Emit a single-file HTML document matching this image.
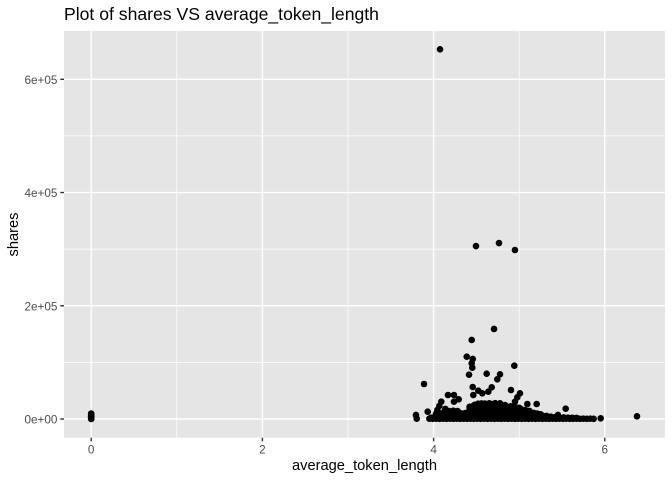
<!DOCTYPE html>
<html lang="en">
<head>
<meta charset="utf-8">
<title>Plot of shares VS average_token_length</title>
<style>
html,body{margin:0;padding:0;background:#fff;width:672px;height:480px;overflow:hidden}
svg{display:block}
text{font-family:"Liberation Sans",Arial,sans-serif}
</style>
</head>
<body>
<svg id="chart" xmlns="http://www.w3.org/2000/svg" width="672" height="480" viewBox="0 0 672 480">
  <rect x="0" y="0" width="672" height="480" fill="#fff"/>
  <rect x="64" y="31" width="601" height="406.7" fill="#E5E5E5"/>
  <g id="grid"></g>
  <g id="points"></g>
  <g id="axes"></g>
  <text x="64" y="20" font-size="17.6" fill="#000">Plot of shares VS average_token_length</text>
  <text x="364.5" y="470" font-size="14.67" fill="#000" text-anchor="middle">average_token_length</text>
  <text transform="translate(18,234.5) rotate(-90)" font-size="14.67" fill="#000" text-anchor="middle">shares</text>
</svg>
<script>
const xTicks = [0, 2, 4, 6];
const xTickLabels = ["0", "2", "4", "6"];
const xMinor = [1, 3, 5];
const yTicks = [0, 200000, 400000, 600000];
const yTickLabels = ["0e+00", "2e+05", "4e+05", "6e+05"];
const yMinor = [100000, 300000, 500000];

const zeroLengthPoints = [[0,0],[0,800],[0,1500],[0,2400],[0,3300],[0,4200],[0,5300],[0,6400],[0,7500],[0,8600],[0,9600]];

const outlierPoints = [
[4.075,652900],[4.495,305500],[4.764,310800],[4.95,298500],[4.706,159000],[4.445,139600],
[4.387,110000],[4.457,106000],[4.445,98400],[4.452,90600],[4.414,78200],[4.62,80000],
[4.943,94100],[4.776,78900],[4.744,70100],[3.888,61800],[4.457,56500],[4.679,56000],
[4.639,48200],[4.904,51200],[4.522,50000],[4.569,45400],[4.464,42400],[5.009,45400],
[4.978,38300],[4.951,30600],[5.095,26500],[5.204,26500],[5.543,18200],[4.168,42400],
[4.238,42400],[4.293,34800],[4.09,30600],[4.067,23000],[4.043,15900],[4.238,30600],
[4.137,17700],[3.931,12900],[3.794,7100],[3.803,500],[6.376,4800],[5.952,1200],
[5.453,7100],[4.776,27700],[4.834,24700]
];

const blobBase = [
[3.95,500],[3.99,300],[4.03,500],[4.07,300],[4.11,500],[4.15,300],[4.19,500],[4.23,300],[4.27,500],[4.31,300],
[4.35,500],[4.39,300],[4.43,500],[4.47,300],[4.51,500],[4.55,300],[4.59,500],[4.63,300],[4.67,500],[4.71,300],
[4.75,500],[4.79,300],[4.83,500],[4.87,300],[4.91,500],[4.95,300],[4.99,500],[5.03,300],[5.07,500],[5.11,300],
[5.15,500],[5.19,300],[5.23,500],[5.27,300],[5.31,500],[5.35,300],[5.39,500],[5.43,300],[5.47,500],[5.51,300],
[5.55,500],[5.59,400],[5.63,300],[5.67,500],[5.71,300],[5.75,500],[5.79,300],[5.83,500],[5.87,300]
];

const blobLower = [
[3.97,2400],[4.02,5200],[4.07,6000],[4.12,6400],[4.17,6000],[4.22,6400],[4.27,6000],[4.32,6400],[4.37,6000],[4.42,6400],[4.47,6000],
[4.52,6400],[4.57,6000],[4.62,6400],[4.67,6000],[4.72,6400],[4.77,6000],[4.82,6400],[4.87,6000],[4.92,6400],[4.97,6000],
[5.02,6400],[5.07,6000],[5.12,6400],[5.17,6000],[5.22,6400],[5.27,6000],[5.32,5400],[5.37,4200],[5.42,3200],[5.47,3000],
[5.52,2800],[5.57,2400],[5.62,2200],[5.67,2000]
];

const blobMiddle = [
[4.03,9500],[4.07,10200],[4.12,11000],[4.17,11800],[4.22,12000],[4.27,11000],[4.32,10000],[4.37,10400],[4.42,11600],[4.47,12000],
[4.52,12000],[4.57,11600],[4.62,12000],[4.67,11600],[4.72,12000],[4.77,11600],[4.82,12000],[4.87,11600],[4.92,12000],[4.97,11600],
[5.02,12000],[5.07,11600],[5.12,11600],[5.17,10800],[5.21,9600],[5.25,8300],
[4.13,14500],[4.18,14000],[4.23,14800],[4.28,14000],[4.42,17000],[4.47,17400],[4.52,17800],[4.57,17400],[4.62,17800],[4.67,17400],
[4.72,17800],[4.77,17400],[4.82,17800],[4.87,17400],[4.92,17800],[4.97,17000],[5.02,17800],[5.07,15800],[5.12,14200]
];

const blobUpper = [
[4.42,21500],[4.46,22800],[4.5,23000],[4.55,22600],[4.6,23000],[4.65,22600],[4.7,23000],[4.75,22600],[4.8,22800],[4.85,22400],[4.9,22400],[4.95,21500],[5.0,19800],
[4.48,25000],[4.52,27000],[4.56,27600],[4.6,27200],[4.65,27700],[4.68,26500],[4.72,28000],[4.76,24800]
];

const panelLeft = 64, panelRight = 665, panelTop = 31, panelBottom = 437.7;
const SVG_NS = "http://www.w3.org/2000/svg";

function xScale(v) { return 91.2 + v * 85.6; }
function yScale(v) { return 419 - v * 339.7 / 600000; }

function line(parent, x1, y1, x2, y2, stroke, width) {
  const el = document.createElementNS(SVG_NS, "line");
  el.setAttribute("x1", x1);
  el.setAttribute("y1", y1);
  el.setAttribute("x2", x2);
  el.setAttribute("y2", y2);
  el.setAttribute("stroke", stroke);
  el.setAttribute("stroke-width", width);
  parent.appendChild(el);
  return el;
}

function label(parent, x, y, str, anchor) {
  const el = document.createElementNS(SVG_NS, "text");
  el.setAttribute("x", x);
  el.setAttribute("y", y);
  el.setAttribute("font-size", "11.73");
  el.setAttribute("fill", "#4D4D4D");
  el.setAttribute("text-anchor", anchor);
  el.textContent = str;
  parent.appendChild(el);
  return el;
}

const grid = document.getElementById("grid");
const axes = document.getElementById("axes");
const pointsLayer = document.getElementById("points");

xMinor.forEach(function (v) {
  const el = line(grid, xScale(v), panelTop, xScale(v), panelBottom, "#fff", 0.71);
  
  
});
yMinor.forEach(function (v) {
  const el = line(grid, panelLeft, yScale(v), panelRight, yScale(v), "#fff", 0.71);
  
  
});
xTicks.forEach(function (v, i) {
  const g = line(grid, xScale(v), panelTop, xScale(v), panelBottom, "#fff", 1.42);
  
  
  const t = line(axes, xScale(v), panelBottom, xScale(v), panelBottom + 3.67, "#333", 1.42);
  
  
  const l = label(axes, xScale(v), 453.3, xTickLabels[i], "middle");
  
  
});
yTicks.forEach(function (v, i) {
  const g = line(grid, panelLeft, yScale(v), panelRight, yScale(v), "#fff", 1.42);
  
  
  const t = line(axes, panelLeft - 3.67, yScale(v), panelLeft, yScale(v), "#333", 1.42);
  
  
  const l = label(axes, 57.4, yScale(v) + 4.5, yTickLabels[i], "end");
  
  
});

[zeroLengthPoints, blobBase, blobLower, blobMiddle, blobUpper, outlierPoints].forEach(function (series) {
  series.forEach(function (p) {
    const c = document.createElementNS(SVG_NS, "circle");
    c.setAttribute("cx", xScale(p[0]));
    c.setAttribute("cy", yScale(p[1]));
    c.setAttribute("r", 3.3);
    c.setAttribute("fill", "#000");
    
    
    pointsLayer.appendChild(c);
  });
});
</script>
</body>
</html>
